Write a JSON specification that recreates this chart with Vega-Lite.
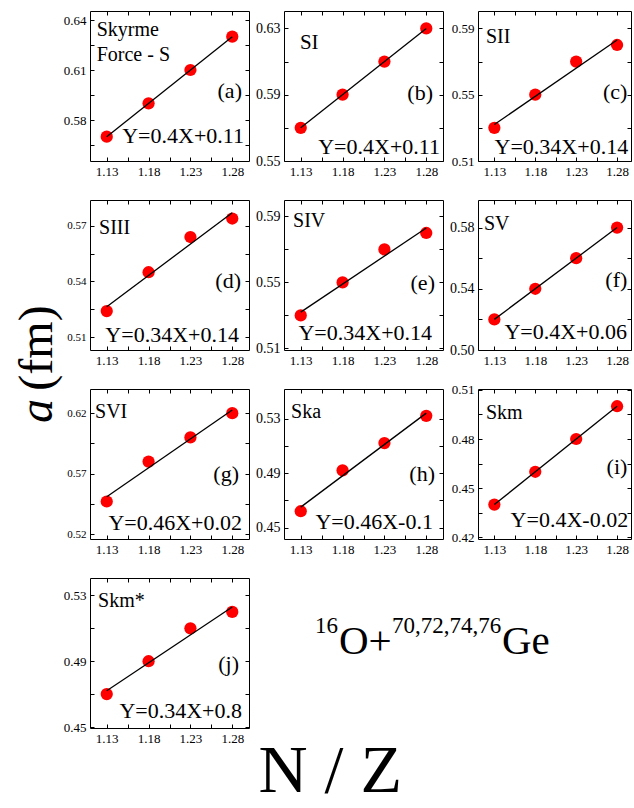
{
  "$schema": "https://vega.github.io/schema/vega-lite/v6.json",
  "padding": {"left": 0, "top": 10, "right": 0, "bottom": 0},
  "background": "white",
  "datasets": {
    "pts": [
      {"p": "a", "nz": 1.13, "a": 0.57}, {"p": "a", "nz": 1.18, "a": 0.59}, {"p": "a", "nz": 1.23, "a": 0.61}, {"p": "a", "nz": 1.28, "a": 0.63},
      {"p": "b", "nz": 1.13, "a": 0.57}, {"p": "b", "nz": 1.18, "a": 0.59}, {"p": "b", "nz": 1.23, "a": 0.61}, {"p": "b", "nz": 1.28, "a": 0.63},
      {"p": "c", "nz": 1.13, "a": 0.53}, {"p": "c", "nz": 1.18, "a": 0.55}, {"p": "c", "nz": 1.23, "a": 0.57}, {"p": "c", "nz": 1.28, "a": 0.58},
      {"p": "d", "nz": 1.13, "a": 0.524}, {"p": "d", "nz": 1.18, "a": 0.545}, {"p": "d", "nz": 1.23, "a": 0.564}, {"p": "d", "nz": 1.28, "a": 0.574},
      {"p": "e", "nz": 1.13, "a": 0.53}, {"p": "e", "nz": 1.18, "a": 0.55}, {"p": "e", "nz": 1.23, "a": 0.57}, {"p": "e", "nz": 1.28, "a": 0.58},
      {"p": "f", "nz": 1.13, "a": 0.52}, {"p": "f", "nz": 1.18, "a": 0.54}, {"p": "f", "nz": 1.23, "a": 0.56}, {"p": "f", "nz": 1.28, "a": 0.58},
      {"p": "g", "nz": 1.13, "a": 0.547}, {"p": "g", "nz": 1.18, "a": 0.58}, {"p": "g", "nz": 1.23, "a": 0.60}, {"p": "g", "nz": 1.28, "a": 0.62},
      {"p": "h", "nz": 1.13, "a": 0.462}, {"p": "h", "nz": 1.18, "a": 0.492}, {"p": "h", "nz": 1.23, "a": 0.512}, {"p": "h", "nz": 1.28, "a": 0.532},
      {"p": "i", "nz": 1.13, "a": 0.44}, {"p": "i", "nz": 1.18, "a": 0.46}, {"p": "i", "nz": 1.23, "a": 0.48}, {"p": "i", "nz": 1.28, "a": 0.50},
      {"p": "j", "nz": 1.13, "a": 0.47}, {"p": "j", "nz": 1.18, "a": 0.49}, {"p": "j", "nz": 1.23, "a": 0.51}, {"p": "j", "nz": 1.28, "a": 0.52}
    ],
    "lab": [
      {"p": "a", "r": "t", "s": "Skyrme"}, {"p": "a", "r": "t2", "s": "Force - S"}, {"p": "a", "r": "g", "s": "(a)"}, {"p": "a", "r": "e", "s": "Y=0.4X+0.11"},
      {"p": "b", "r": "t", "s": "SI"}, {"p": "b", "r": "g", "s": "(b)"}, {"p": "b", "r": "e", "s": "Y=0.4X+0.11"},
      {"p": "c", "r": "t", "s": "SII"}, {"p": "c", "r": "g", "s": "(c)"}, {"p": "c", "r": "e", "s": "Y=0.34X+0.14"},
      {"p": "d", "r": "t", "s": "SIII"}, {"p": "d", "r": "g", "s": "(d)"}, {"p": "d", "r": "e", "s": "Y=0.34X+0.14"},
      {"p": "e", "r": "t", "s": "SIV"}, {"p": "e", "r": "g", "s": "(e)"}, {"p": "e", "r": "e", "s": "Y=0.34X+0.14"},
      {"p": "f", "r": "t", "s": "SV"}, {"p": "f", "r": "g", "s": "(f)"}, {"p": "f", "r": "e", "s": "Y=0.4X+0.06"},
      {"p": "g", "r": "t", "s": "SVI"}, {"p": "g", "r": "g", "s": "(g)"}, {"p": "g", "r": "e", "s": "Y=0.46X+0.02"},
      {"p": "h", "r": "t", "s": "Ska"}, {"p": "h", "r": "g", "s": "(h)"}, {"p": "h", "r": "e", "s": "Y=0.46X-0.1"},
      {"p": "i", "r": "t", "s": "Skm"}, {"p": "i", "r": "g", "s": "(i)"}, {"p": "i", "r": "e", "s": "Y=0.4X-0.02"},
      {"p": "j", "r": "t", "s": "Skm*"}, {"p": "j", "r": "g", "s": "(j)"}, {"p": "j", "r": "e", "s": "Y=0.34X+0.8"},
      {"p": "y", "r": "a", "s": "a"}, {"p": "y", "r": "fm", "s": "(fm)"},
      {"p": "n", "r": "16", "s": "16"}, {"p": "n", "r": "O", "s": "O+"}, {"p": "n", "r": "sup", "s": "70,72,74,76"}, {"p": "n", "r": "Ge", "s": "Ge"}
    ]
  },
  "title": {"text": "N / Z", "orient": "bottom", "anchor": "middle", "fontSize": 68, "font": "Liberation Serif", "fontWeight": "normal", "color": "black", "dx": 14, "offset": -8},
  "bounds": "flush",
  "spacing": 31,
  "hconcat": [
    {
      "width": 58, "height": 717,
      "view": {"stroke": "transparent"},
      "data": {"name": "lab"},
      "layer": [
        {"transform": [{"filter": "datum.p==='y' && datum.r==='a'"}], "mark": {"type": "text", "angle": 270, "align": "center", "baseline": "middle", "fontSize": 48, "fontStyle": "italic"},
         "encoding": {"x": {"datum": 0.64, "type": "quantitative", "scale": {"domain": [0, 1], "nice": false, "zero": false}, "axis": null}, "y": {"datum": 0.442, "type": "quantitative", "scale": {"domain": [0, 1], "nice": false, "zero": false}, "axis": null}, "text": {"field": "s"}}},
        {"transform": [{"filter": "datum.p==='y' && datum.r==='fm'"}], "mark": {"type": "text", "angle": 270, "align": "center", "baseline": "middle", "fontSize": 48},
         "encoding": {"x": {"datum": 0.64, "type": "quantitative", "scale": {"domain": [0, 1], "nice": false, "zero": false}, "axis": null}, "y": {"datum": 0.53, "type": "quantitative", "scale": {"domain": [0, 1], "nice": false, "zero": false}, "axis": null}, "text": {"field": "s"}}}
      ]
    },
    {
      "columns": 3,
      "spacing": {"row": 39, "column": 35},
      "bounds": "flush",
      "align": "each",
      "concat": [
        {
          "width": 159, "height": 150,
          "layer": [
            {"data": {"name": "pts"}, "transform": [{"filter": "datum.p==='a'"}], "mark": {"type": "circle", "color": "#ff0000", "size": 150, "opacity": 1},
             "encoding": {"x": {"field": "nz", "type": "quantitative", "scale": {"domain": [1.11, 1.30], "nice": false, "zero": false}, "axis": {"title": null, "values": [1.13, 1.155, 1.18, 1.205, 1.23, 1.255, 1.28], "format": ".2f", "labelExpr": "indexof([1.13,1.18,1.23,1.28], datum.value) >= 0 ? datum.label : ''"}},
                          "y": {"field": "a", "type": "quantitative", "scale": {"domain": [0.5554, 0.6454], "nice": false, "zero": false}, "axis": {"title": null, "values": [0.565, 0.58, 0.595, 0.61, 0.625, 0.64], "format": ".2f", "labelFontSize": 13, "labelExpr": "indexof([0.58,0.61,0.64], datum.value) >= 0 ? datum.label : ''"}}}},
            {"data": {"name": "pts"}, "transform": [{"filter": "datum.p==='a'"}, {"regression": "a", "on": "nz"}], "mark": {"type": "line", "color": "black", "strokeWidth": 1.3},
             "encoding": {"x": {"field": "nz", "type": "quantitative", "scale": {"domain": [1.11, 1.30], "nice": false, "zero": false}, "axis": null}, "y": {"field": "a", "type": "quantitative", "scale": {"domain": [0.5554, 0.6454], "nice": false, "zero": false}, "axis": null}}},
            {"data": {"name": "pts"}, "transform": [{"filter": "datum.p==='a'"}], "mark": {"type": "point", "opacity": 0},
             "encoding": {"x": {"field": "nz", "type": "quantitative", "scale": {"domain": [1.11, 1.30], "nice": false, "zero": false}, "axis": {"title": null, "orient": "top", "labels": false, "values": [1.13, 1.155, 1.18, 1.205, 1.23, 1.255, 1.28]}},
                          "y": {"field": "a", "type": "quantitative", "scale": {"domain": [0.5554, 0.6454], "nice": false, "zero": false}, "axis": {"title": null, "orient": "right", "labels": false, "values": [0.565, 0.58, 0.595, 0.61, 0.625, 0.64]}}}},
            {"data": {"name": "lab"}, "transform": [{"filter": "datum.p==='a' && datum.r==='t'"}], "mark": {"type": "text", "align": "left", "fontSize": 20},
             "encoding": {"x": {"datum": 1.118, "type": "quantitative", "scale": {"domain": [1.11, 1.30], "nice": false, "zero": false}, "axis": null}, "y": {"datum": 0.6304, "type": "quantitative", "scale": {"domain": [0.5554, 0.6454], "nice": false, "zero": false}, "axis": null}, "text": {"field": "s"}}},
            {"data": {"name": "lab"}, "transform": [{"filter": "datum.p==='a' && datum.r==='t2'"}], "mark": {"type": "text", "align": "left", "fontSize": 20},
             "encoding": {"x": {"datum": 1.118, "type": "quantitative", "scale": {"domain": [1.11, 1.30], "nice": false, "zero": false}, "axis": null}, "y": {"datum": 0.6154, "type": "quantitative", "scale": {"domain": [0.5554, 0.6454], "nice": false, "zero": false}, "axis": null}, "text": {"field": "s"}}},
            {"data": {"name": "lab"}, "transform": [{"filter": "datum.p==='a' && datum.r==='g'"}], "mark": {"type": "text", "align": "right", "fontSize": 22},
             "encoding": {"x": {"datum": 1.2916, "type": "quantitative", "scale": {"domain": [1.11, 1.30], "nice": false, "zero": false}, "axis": null}, "y": {"datum": 0.5932, "type": "quantitative", "scale": {"domain": [0.5554, 0.6454], "nice": false, "zero": false}, "axis": null}, "text": {"field": "s"}}},
            {"data": {"name": "lab"}, "transform": [{"filter": "datum.p==='a' && datum.r==='e'"}], "mark": {"type": "text", "align": "right", "fontSize": 22},
             "encoding": {"x": {"datum": 1.294, "type": "quantitative", "scale": {"domain": [1.11, 1.30], "nice": false, "zero": false}, "axis": null}, "y": {"datum": 0.5662, "type": "quantitative", "scale": {"domain": [0.5554, 0.6454], "nice": false, "zero": false}, "axis": null}, "text": {"field": "s"}}}
          ],
          "resolve": {"axis": {"x": "independent", "y": "independent"}}
        },
        {
          "width": 159, "height": 150,
          "layer": [
            {"data": {"name": "pts"}, "transform": [{"filter": "datum.p==='b'"}], "mark": {"type": "circle", "color": "#ff0000", "size": 150, "opacity": 1},
             "encoding": {"x": {"field": "nz", "type": "quantitative", "scale": {"domain": [1.11, 1.30], "nice": false, "zero": false}, "axis": {"title": null, "values": [1.13, 1.155, 1.18, 1.205, 1.23, 1.255, 1.28], "format": ".2f", "labelExpr": "indexof([1.13,1.18,1.23,1.28], datum.value) >= 0 ? datum.label : ''"}},
                          "y": {"field": "a", "type": "quantitative", "scale": {"domain": [0.55, 0.6405], "nice": false, "zero": false}, "axis": {"title": null, "values": [0.55, 0.57, 0.59, 0.61, 0.63], "format": ".2f", "labelFontSize": 14, "labelExpr": "indexof([0.55,0.59,0.63], datum.value) >= 0 ? datum.label : ''"}}}},
            {"data": {"name": "pts"}, "transform": [{"filter": "datum.p==='b'"}, {"regression": "a", "on": "nz"}], "mark": {"type": "line", "color": "black", "strokeWidth": 1.3},
             "encoding": {"x": {"field": "nz", "type": "quantitative", "scale": {"domain": [1.11, 1.30], "nice": false, "zero": false}, "axis": null}, "y": {"field": "a", "type": "quantitative", "scale": {"domain": [0.55, 0.6405], "nice": false, "zero": false}, "axis": null}}},
            {"data": {"name": "pts"}, "transform": [{"filter": "datum.p==='b'"}], "mark": {"type": "point", "opacity": 0},
             "encoding": {"x": {"field": "nz", "type": "quantitative", "scale": {"domain": [1.11, 1.30], "nice": false, "zero": false}, "axis": {"title": null, "orient": "top", "labels": false, "values": [1.13, 1.155, 1.18, 1.205, 1.23, 1.255, 1.28]}},
                          "y": {"field": "a", "type": "quantitative", "scale": {"domain": [0.55, 0.6405], "nice": false, "zero": false}, "axis": {"title": null, "orient": "right", "labels": false, "values": [0.55, 0.57, 0.59, 0.61, 0.63]}}}},
            {"data": {"name": "lab"}, "transform": [{"filter": "datum.p==='b' && datum.r==='t'"}], "mark": {"type": "text", "align": "left", "fontSize": 21},
             "encoding": {"x": {"datum": 1.129, "type": "quantitative", "scale": {"domain": [1.11, 1.30], "nice": false, "zero": false}, "axis": null}, "y": {"datum": 0.6176, "type": "quantitative", "scale": {"domain": [0.55, 0.6405], "nice": false, "zero": false}, "axis": null}, "text": {"field": "s"}}},
            {"data": {"name": "lab"}, "transform": [{"filter": "datum.p==='b' && datum.r==='g'"}], "mark": {"type": "text", "align": "right", "fontSize": 22},
             "encoding": {"x": {"datum": 1.288, "type": "quantitative", "scale": {"domain": [1.11, 1.30], "nice": false, "zero": false}, "axis": null}, "y": {"datum": 0.5868, "type": "quantitative", "scale": {"domain": [0.55, 0.6405], "nice": false, "zero": false}, "axis": null}, "text": {"field": "s"}}},
            {"data": {"name": "lab"}, "transform": [{"filter": "datum.p==='b' && datum.r==='e'"}], "mark": {"type": "text", "align": "right", "fontSize": 22},
             "encoding": {"x": {"datum": 1.2964, "type": "quantitative", "scale": {"domain": [1.11, 1.30], "nice": false, "zero": false}, "axis": null}, "y": {"datum": 0.5542, "type": "quantitative", "scale": {"domain": [0.55, 0.6405], "nice": false, "zero": false}, "axis": null}, "text": {"field": "s"}}}
          ],
          "resolve": {"axis": {"x": "independent", "y": "independent"}}
        },
        {
          "width": 153, "height": 150,
          "layer": [
            {"data": {"name": "pts"}, "transform": [{"filter": "datum.p==='c'"}], "mark": {"type": "circle", "color": "#ff0000", "size": 150, "opacity": 1},
             "encoding": {"x": {"field": "nz", "type": "quantitative", "scale": {"domain": [1.11, 1.297], "nice": false, "zero": false}, "axis": {"title": null, "values": [1.13, 1.155, 1.18, 1.205, 1.23, 1.255, 1.28], "format": ".2f", "labelExpr": "indexof([1.13,1.18,1.23,1.28], datum.value) >= 0 ? datum.label : ''"}},
                          "y": {"field": "a", "type": "quantitative", "scale": {"domain": [0.51, 0.6005], "nice": false, "zero": false}, "axis": {"title": null, "values": [0.51, 0.53, 0.55, 0.57, 0.59], "format": ".2f", "labelFontSize": 13, "labelExpr": "indexof([0.51,0.55,0.59], datum.value) >= 0 ? datum.label : ''"}}}},
            {"data": {"name": "pts"}, "transform": [{"filter": "datum.p==='c'"}, {"regression": "a", "on": "nz"}], "mark": {"type": "line", "color": "black", "strokeWidth": 1.3},
             "encoding": {"x": {"field": "nz", "type": "quantitative", "scale": {"domain": [1.11, 1.297], "nice": false, "zero": false}, "axis": null}, "y": {"field": "a", "type": "quantitative", "scale": {"domain": [0.51, 0.6005], "nice": false, "zero": false}, "axis": null}}},
            {"data": {"name": "pts"}, "transform": [{"filter": "datum.p==='c'"}], "mark": {"type": "point", "opacity": 0},
             "encoding": {"x": {"field": "nz", "type": "quantitative", "scale": {"domain": [1.11, 1.297], "nice": false, "zero": false}, "axis": {"title": null, "orient": "top", "labels": false, "values": [1.13, 1.155, 1.18, 1.205, 1.23, 1.255, 1.28]}},
                          "y": {"field": "a", "type": "quantitative", "scale": {"domain": [0.51, 0.6005], "nice": false, "zero": false}, "axis": {"title": null, "orient": "right", "labels": false, "values": [0.51, 0.53, 0.55, 0.57, 0.59]}}}},
            {"data": {"name": "lab"}, "transform": [{"filter": "datum.p==='c' && datum.r==='t'"}], "mark": {"type": "text", "align": "left", "fontSize": 20},
             "encoding": {"x": {"datum": 1.1197, "type": "quantitative", "scale": {"domain": [1.11, 1.297], "nice": false, "zero": false}, "axis": null}, "y": {"datum": 0.5812, "type": "quantitative", "scale": {"domain": [0.51, 0.6005], "nice": false, "zero": false}, "axis": null}, "text": {"field": "s"}}},
            {"data": {"name": "lab"}, "transform": [{"filter": "datum.p==='c' && datum.r==='g'"}], "mark": {"type": "text", "align": "right", "fontSize": 22},
             "encoding": {"x": {"datum": 1.2925, "type": "quantitative", "scale": {"domain": [1.11, 1.297], "nice": false, "zero": false}, "axis": null}, "y": {"datum": 0.5474, "type": "quantitative", "scale": {"domain": [0.51, 0.6005], "nice": false, "zero": false}, "axis": null}, "text": {"field": "s"}}},
            {"data": {"name": "lab"}, "transform": [{"filter": "datum.p==='c' && datum.r==='e'"}], "mark": {"type": "text", "align": "right", "fontSize": 22},
             "encoding": {"x": {"datum": 1.2935, "type": "quantitative", "scale": {"domain": [1.11, 1.297], "nice": false, "zero": false}, "axis": null}, "y": {"datum": 0.5142, "type": "quantitative", "scale": {"domain": [0.51, 0.6005], "nice": false, "zero": false}, "axis": null}, "text": {"field": "s"}}}
          ],
          "resolve": {"axis": {"x": "independent", "y": "independent"}}
        },
        {
          "width": 159, "height": 150,
          "layer": [
            {"data": {"name": "pts"}, "transform": [{"filter": "datum.p==='d'"}], "mark": {"type": "circle", "color": "#ff0000", "size": 150, "opacity": 1},
             "encoding": {"x": {"field": "nz", "type": "quantitative", "scale": {"domain": [1.11, 1.30], "nice": false, "zero": false}, "axis": {"title": null, "values": [1.13, 1.155, 1.18, 1.205, 1.23, 1.255, 1.28], "format": ".2f", "labelExpr": "indexof([1.13,1.18,1.23,1.28], datum.value) >= 0 ? datum.label : ''"}},
                          "y": {"field": "a", "type": "quantitative", "scale": {"domain": [0.503, 0.584], "nice": false, "zero": false}, "axis": {"title": null, "values": [0.51, 0.525, 0.54, 0.555, 0.57], "format": ".2f", "labelFontSize": 11, "labelExpr": "indexof([0.51,0.54,0.57], datum.value) >= 0 ? datum.label : ''"}}}},
            {"data": {"name": "pts"}, "transform": [{"filter": "datum.p==='d'"}, {"regression": "a", "on": "nz"}], "mark": {"type": "line", "color": "black", "strokeWidth": 1.3},
             "encoding": {"x": {"field": "nz", "type": "quantitative", "scale": {"domain": [1.11, 1.30], "nice": false, "zero": false}, "axis": null}, "y": {"field": "a", "type": "quantitative", "scale": {"domain": [0.503, 0.584], "nice": false, "zero": false}, "axis": null}}},
            {"data": {"name": "pts"}, "transform": [{"filter": "datum.p==='d'"}], "mark": {"type": "point", "opacity": 0},
             "encoding": {"x": {"field": "nz", "type": "quantitative", "scale": {"domain": [1.11, 1.30], "nice": false, "zero": false}, "axis": {"title": null, "orient": "top", "labels": false, "values": [1.13, 1.155, 1.18, 1.205, 1.23, 1.255, 1.28]}},
                          "y": {"field": "a", "type": "quantitative", "scale": {"domain": [0.503, 0.584], "nice": false, "zero": false}, "axis": {"title": null, "orient": "right", "labels": false, "values": [0.51, 0.525, 0.54, 0.555, 0.57]}}}},
            {"data": {"name": "lab"}, "transform": [{"filter": "datum.p==='d' && datum.r==='t'"}], "mark": {"type": "text", "align": "left", "fontSize": 20},
             "encoding": {"x": {"datum": 1.1208, "type": "quantitative", "scale": {"domain": [1.11, 1.30], "nice": false, "zero": false}, "axis": null}, "y": {"datum": 0.5656, "type": "quantitative", "scale": {"domain": [0.503, 0.584], "nice": false, "zero": false}, "axis": null}, "text": {"field": "s"}}},
            {"data": {"name": "lab"}, "transform": [{"filter": "datum.p==='d' && datum.r==='g'"}], "mark": {"type": "text", "align": "right", "fontSize": 22},
             "encoding": {"x": {"datum": 1.2904, "type": "quantitative", "scale": {"domain": [1.11, 1.30], "nice": false, "zero": false}, "axis": null}, "y": {"datum": 0.5365, "type": "quantitative", "scale": {"domain": [0.503, 0.584], "nice": false, "zero": false}, "axis": null}, "text": {"field": "s"}}},
            {"data": {"name": "lab"}, "transform": [{"filter": "datum.p==='d' && datum.r==='e'"}], "mark": {"type": "text", "align": "right", "fontSize": 22},
             "encoding": {"x": {"datum": 1.288, "type": "quantitative", "scale": {"domain": [1.11, 1.30], "nice": false, "zero": false}, "axis": null}, "y": {"datum": 0.5073, "type": "quantitative", "scale": {"domain": [0.503, 0.584], "nice": false, "zero": false}, "axis": null}, "text": {"field": "s"}}}
          ],
          "resolve": {"axis": {"x": "independent", "y": "independent"}}
        },
        {
          "width": 159, "height": 150,
          "layer": [
            {"data": {"name": "pts"}, "transform": [{"filter": "datum.p==='e'"}], "mark": {"type": "circle", "color": "#ff0000", "size": 150, "opacity": 1},
             "encoding": {"x": {"field": "nz", "type": "quantitative", "scale": {"domain": [1.11, 1.30], "nice": false, "zero": false}, "axis": {"title": null, "values": [1.13, 1.155, 1.18, 1.205, 1.23, 1.255, 1.28], "format": ".2f", "labelExpr": "indexof([1.13,1.18,1.23,1.28], datum.value) >= 0 ? datum.label : ''"}},
                          "y": {"field": "a", "type": "quantitative", "scale": {"domain": [0.509, 0.600], "nice": false, "zero": false}, "axis": {"title": null, "values": [0.51, 0.53, 0.55, 0.57, 0.59], "format": ".2f", "labelFontSize": 14, "labelExpr": "indexof([0.51,0.55,0.59], datum.value) >= 0 ? datum.label : ''"}}}},
            {"data": {"name": "pts"}, "transform": [{"filter": "datum.p==='e'"}, {"regression": "a", "on": "nz"}], "mark": {"type": "line", "color": "black", "strokeWidth": 1.3},
             "encoding": {"x": {"field": "nz", "type": "quantitative", "scale": {"domain": [1.11, 1.30], "nice": false, "zero": false}, "axis": null}, "y": {"field": "a", "type": "quantitative", "scale": {"domain": [0.509, 0.600], "nice": false, "zero": false}, "axis": null}}},
            {"data": {"name": "pts"}, "transform": [{"filter": "datum.p==='e'"}], "mark": {"type": "point", "opacity": 0},
             "encoding": {"x": {"field": "nz", "type": "quantitative", "scale": {"domain": [1.11, 1.30], "nice": false, "zero": false}, "axis": {"title": null, "orient": "top", "labels": false, "values": [1.13, 1.155, 1.18, 1.205, 1.23, 1.255, 1.28]}},
                          "y": {"field": "a", "type": "quantitative", "scale": {"domain": [0.509, 0.600], "nice": false, "zero": false}, "axis": {"title": null, "orient": "right", "labels": false, "values": [0.51, 0.53, 0.55, 0.57, 0.59]}}}},
            {"data": {"name": "lab"}, "transform": [{"filter": "datum.p==='e' && datum.r==='t'"}], "mark": {"type": "text", "align": "left", "fontSize": 20},
             "encoding": {"x": {"datum": 1.1208, "type": "quantitative", "scale": {"domain": [1.11, 1.30], "nice": false, "zero": false}, "axis": null}, "y": {"datum": 0.5836, "type": "quantitative", "scale": {"domain": [0.509, 0.600], "nice": false, "zero": false}, "axis": null}, "text": {"field": "s"}}},
            {"data": {"name": "lab"}, "transform": [{"filter": "datum.p==='e' && datum.r==='g'"}], "mark": {"type": "text", "align": "right", "fontSize": 22},
             "encoding": {"x": {"datum": 1.2904, "type": "quantitative", "scale": {"domain": [1.11, 1.30], "nice": false, "zero": false}, "axis": null}, "y": {"datum": 0.5454, "type": "quantitative", "scale": {"domain": [0.509, 0.600], "nice": false, "zero": false}, "axis": null}, "text": {"field": "s"}}},
            {"data": {"name": "lab"}, "transform": [{"filter": "datum.p==='e' && datum.r==='e'"}], "mark": {"type": "text", "align": "right", "fontSize": 22},
             "encoding": {"x": {"datum": 1.2869, "type": "quantitative", "scale": {"domain": [1.11, 1.30], "nice": false, "zero": false}, "axis": null}, "y": {"datum": 0.5151, "type": "quantitative", "scale": {"domain": [0.509, 0.600], "nice": false, "zero": false}, "axis": null}, "text": {"field": "s"}}}
          ],
          "resolve": {"axis": {"x": "independent", "y": "independent"}}
        },
        {
          "width": 153, "height": 150,
          "layer": [
            {"data": {"name": "pts"}, "transform": [{"filter": "datum.p==='f'"}], "mark": {"type": "circle", "color": "#ff0000", "size": 150, "opacity": 1},
             "encoding": {"x": {"field": "nz", "type": "quantitative", "scale": {"domain": [1.11, 1.297], "nice": false, "zero": false}, "axis": {"title": null, "values": [1.13, 1.155, 1.18, 1.205, 1.23, 1.255, 1.28], "format": ".2f", "labelExpr": "indexof([1.13,1.18,1.23,1.28], datum.value) >= 0 ? datum.label : ''"}},
                          "y": {"field": "a", "type": "quantitative", "scale": {"domain": [0.50, 0.598], "nice": false, "zero": false}, "axis": {"title": null, "values": [0.50, 0.52, 0.54, 0.56, 0.58], "format": ".2f", "labelFontSize": 14, "labelExpr": "indexof([0.5,0.54,0.58], datum.value) >= 0 ? datum.label : ''"}}}},
            {"data": {"name": "pts"}, "transform": [{"filter": "datum.p==='f'"}, {"regression": "a", "on": "nz"}], "mark": {"type": "line", "color": "black", "strokeWidth": 1.3},
             "encoding": {"x": {"field": "nz", "type": "quantitative", "scale": {"domain": [1.11, 1.297], "nice": false, "zero": false}, "axis": null}, "y": {"field": "a", "type": "quantitative", "scale": {"domain": [0.50, 0.598], "nice": false, "zero": false}, "axis": null}}},
            {"data": {"name": "pts"}, "transform": [{"filter": "datum.p==='f'"}], "mark": {"type": "point", "opacity": 0},
             "encoding": {"x": {"field": "nz", "type": "quantitative", "scale": {"domain": [1.11, 1.297], "nice": false, "zero": false}, "axis": {"title": null, "orient": "top", "labels": false, "values": [1.13, 1.155, 1.18, 1.205, 1.23, 1.255, 1.28]}},
                          "y": {"field": "a", "type": "quantitative", "scale": {"domain": [0.50, 0.598], "nice": false, "zero": false}, "axis": {"title": null, "orient": "right", "labels": false, "values": [0.50, 0.52, 0.54, 0.56, 0.58]}}}},
            {"data": {"name": "lab"}, "transform": [{"filter": "datum.p==='f' && datum.r==='t'"}], "mark": {"type": "text", "align": "left", "fontSize": 20},
             "encoding": {"x": {"datum": 1.1173, "type": "quantitative", "scale": {"domain": [1.11, 1.297], "nice": false, "zero": false}, "axis": null}, "y": {"datum": 0.5784, "type": "quantitative", "scale": {"domain": [0.50, 0.598], "nice": false, "zero": false}, "axis": null}, "text": {"field": "s"}}},
            {"data": {"name": "lab"}, "transform": [{"filter": "datum.p==='f' && datum.r==='g'"}], "mark": {"type": "text", "align": "right", "fontSize": 22},
             "encoding": {"x": {"datum": 1.2925, "type": "quantitative", "scale": {"domain": [1.11, 1.297], "nice": false, "zero": false}, "axis": null}, "y": {"datum": 0.5411, "type": "quantitative", "scale": {"domain": [0.50, 0.598], "nice": false, "zero": false}, "axis": null}, "text": {"field": "s"}}},
            {"data": {"name": "lab"}, "transform": [{"filter": "datum.p==='f' && datum.r==='e'"}], "mark": {"type": "text", "align": "right", "fontSize": 22},
             "encoding": {"x": {"datum": 1.2921, "type": "quantitative", "scale": {"domain": [1.11, 1.297], "nice": false, "zero": false}, "axis": null}, "y": {"datum": 0.5072, "type": "quantitative", "scale": {"domain": [0.50, 0.598], "nice": false, "zero": false}, "axis": null}, "text": {"field": "s"}}}
          ],
          "resolve": {"axis": {"x": "independent", "y": "independent"}}
        },
        {
          "width": 159, "height": 150,
          "layer": [
            {"data": {"name": "pts"}, "transform": [{"filter": "datum.p==='g'"}], "mark": {"type": "circle", "color": "#ff0000", "size": 150, "opacity": 1},
             "encoding": {"x": {"field": "nz", "type": "quantitative", "scale": {"domain": [1.11, 1.30], "nice": false, "zero": false}, "axis": {"title": null, "values": [1.13, 1.155, 1.18, 1.205, 1.23, 1.255, 1.28], "format": ".2f", "labelExpr": "indexof([1.13,1.18,1.23,1.28], datum.value) >= 0 ? datum.label : ''"}},
                          "y": {"field": "a", "type": "quantitative", "scale": {"domain": [0.516, 0.640], "nice": false, "zero": false}, "axis": {"title": null, "values": [0.52, 0.545, 0.57, 0.595, 0.62], "format": ".2f", "labelFontSize": 11, "labelExpr": "indexof([0.52,0.57,0.62], datum.value) >= 0 ? datum.label : ''"}}}},
            {"data": {"name": "pts"}, "transform": [{"filter": "datum.p==='g'"}, {"regression": "a", "on": "nz"}], "mark": {"type": "line", "color": "black", "strokeWidth": 1.3},
             "encoding": {"x": {"field": "nz", "type": "quantitative", "scale": {"domain": [1.11, 1.30], "nice": false, "zero": false}, "axis": null}, "y": {"field": "a", "type": "quantitative", "scale": {"domain": [0.516, 0.640], "nice": false, "zero": false}, "axis": null}}},
            {"data": {"name": "pts"}, "transform": [{"filter": "datum.p==='g'"}], "mark": {"type": "point", "opacity": 0},
             "encoding": {"x": {"field": "nz", "type": "quantitative", "scale": {"domain": [1.11, 1.30], "nice": false, "zero": false}, "axis": {"title": null, "orient": "top", "labels": false, "values": [1.13, 1.155, 1.18, 1.205, 1.23, 1.255, 1.28]}},
                          "y": {"field": "a", "type": "quantitative", "scale": {"domain": [0.516, 0.640], "nice": false, "zero": false}, "axis": {"title": null, "orient": "right", "labels": false, "values": [0.52, 0.545, 0.57, 0.595, 0.62]}}}},
            {"data": {"name": "lab"}, "transform": [{"filter": "datum.p==='g' && datum.r==='t'"}], "mark": {"type": "text", "align": "left", "fontSize": 20},
             "encoding": {"x": {"datum": 1.116, "type": "quantitative", "scale": {"domain": [1.11, 1.30], "nice": false, "zero": false}, "axis": null}, "y": {"datum": 0.616, "type": "quantitative", "scale": {"domain": [0.516, 0.640], "nice": false, "zero": false}, "axis": null}, "text": {"field": "s"}}},
            {"data": {"name": "lab"}, "transform": [{"filter": "datum.p==='g' && datum.r==='g'"}], "mark": {"type": "text", "align": "right", "fontSize": 22},
             "encoding": {"x": {"datum": 1.288, "type": "quantitative", "scale": {"domain": [1.11, 1.30], "nice": false, "zero": false}, "axis": null}, "y": {"datum": 0.564, "type": "quantitative", "scale": {"domain": [0.516, 0.640], "nice": false, "zero": false}, "axis": null}, "text": {"field": "s"}}},
            {"data": {"name": "lab"}, "transform": [{"filter": "datum.p==='g' && datum.r==='e'"}], "mark": {"type": "text", "align": "right", "fontSize": 22},
             "encoding": {"x": {"datum": 1.2916, "type": "quantitative", "scale": {"domain": [1.11, 1.30], "nice": false, "zero": false}, "axis": null}, "y": {"datum": 0.5234, "type": "quantitative", "scale": {"domain": [0.516, 0.640], "nice": false, "zero": false}, "axis": null}, "text": {"field": "s"}}}
          ],
          "resolve": {"axis": {"x": "independent", "y": "independent"}}
        },
        {
          "width": 159, "height": 150,
          "layer": [
            {"data": {"name": "pts"}, "transform": [{"filter": "datum.p==='h'"}], "mark": {"type": "circle", "color": "#ff0000", "size": 150, "opacity": 1},
             "encoding": {"x": {"field": "nz", "type": "quantitative", "scale": {"domain": [1.11, 1.30], "nice": false, "zero": false}, "axis": {"title": null, "values": [1.13, 1.155, 1.18, 1.205, 1.23, 1.255, 1.28], "format": ".2f", "labelExpr": "indexof([1.13,1.18,1.23,1.28], datum.value) >= 0 ? datum.label : ''"}},
                          "y": {"field": "a", "type": "quantitative", "scale": {"domain": [0.4416, 0.5517], "nice": false, "zero": false}, "axis": {"title": null, "values": [0.45, 0.47, 0.49, 0.51, 0.53], "format": ".2f", "labelFontSize": 14, "labelExpr": "indexof([0.45,0.49,0.53], datum.value) >= 0 ? datum.label : ''"}}}},
            {"data": {"name": "pts"}, "transform": [{"filter": "datum.p==='h'"}, {"regression": "a", "on": "nz"}], "mark": {"type": "line", "color": "black", "strokeWidth": 1.3},
             "encoding": {"x": {"field": "nz", "type": "quantitative", "scale": {"domain": [1.11, 1.30], "nice": false, "zero": false}, "axis": null}, "y": {"field": "a", "type": "quantitative", "scale": {"domain": [0.4416, 0.5517], "nice": false, "zero": false}, "axis": null}}},
            {"data": {"name": "pts"}, "transform": [{"filter": "datum.p==='h'"}], "mark": {"type": "point", "opacity": 0},
             "encoding": {"x": {"field": "nz", "type": "quantitative", "scale": {"domain": [1.11, 1.30], "nice": false, "zero": false}, "axis": {"title": null, "orient": "top", "labels": false, "values": [1.13, 1.155, 1.18, 1.205, 1.23, 1.255, 1.28]}},
                          "y": {"field": "a", "type": "quantitative", "scale": {"domain": [0.4416, 0.5517], "nice": false, "zero": false}, "axis": {"title": null, "orient": "right", "labels": false, "values": [0.45, 0.47, 0.49, 0.51, 0.53]}}}},
            {"data": {"name": "lab"}, "transform": [{"filter": "datum.p==='h' && datum.r==='t'"}], "mark": {"type": "text", "align": "left", "fontSize": 20},
             "encoding": {"x": {"datum": 1.1184, "type": "quantitative", "scale": {"domain": [1.11, 1.30], "nice": false, "zero": false}, "axis": null}, "y": {"datum": 0.5304, "type": "quantitative", "scale": {"domain": [0.4416, 0.5517], "nice": false, "zero": false}, "axis": null}, "text": {"field": "s"}}},
            {"data": {"name": "lab"}, "transform": [{"filter": "datum.p==='h' && datum.r==='g'"}], "mark": {"type": "text", "align": "right", "fontSize": 22},
             "encoding": {"x": {"datum": 1.2904, "type": "quantitative", "scale": {"domain": [1.11, 1.30], "nice": false, "zero": false}, "axis": null}, "y": {"datum": 0.4842, "type": "quantitative", "scale": {"domain": [0.4416, 0.5517], "nice": false, "zero": false}, "axis": null}, "text": {"field": "s"}}},
            {"data": {"name": "lab"}, "transform": [{"filter": "datum.p==='h' && datum.r==='e'"}], "mark": {"type": "text", "align": "right", "fontSize": 22},
             "encoding": {"x": {"datum": 1.288, "type": "quantitative", "scale": {"domain": [1.11, 1.30], "nice": false, "zero": false}, "axis": null}, "y": {"datum": 0.4489, "type": "quantitative", "scale": {"domain": [0.4416, 0.5517], "nice": false, "zero": false}, "axis": null}, "text": {"field": "s"}}}
          ],
          "resolve": {"axis": {"x": "independent", "y": "independent"}}
        },
        {
          "width": 153, "height": 150,
          "layer": [
            {"data": {"name": "pts"}, "transform": [{"filter": "datum.p==='i'"}], "mark": {"type": "circle", "color": "#ff0000", "size": 150, "opacity": 1},
             "encoding": {"x": {"field": "nz", "type": "quantitative", "scale": {"domain": [1.11, 1.297], "nice": false, "zero": false}, "axis": {"title": null, "values": [1.13, 1.155, 1.18, 1.205, 1.23, 1.255, 1.28], "format": ".2f", "labelExpr": "indexof([1.13,1.18,1.23,1.28], datum.value) >= 0 ? datum.label : ''"}},
                          "y": {"field": "a", "type": "quantitative", "scale": {"domain": [0.419, 0.5105], "nice": false, "zero": false}, "axis": {"title": null, "values": [0.42, 0.435, 0.45, 0.465, 0.48, 0.495, 0.51], "format": ".2f", "labelFontSize": 13, "labelExpr": "indexof([0.42,0.45,0.48,0.51], datum.value) >= 0 ? datum.label : ''"}}}},
            {"data": {"name": "pts"}, "transform": [{"filter": "datum.p==='i'"}, {"regression": "a", "on": "nz"}], "mark": {"type": "line", "color": "black", "strokeWidth": 1.3},
             "encoding": {"x": {"field": "nz", "type": "quantitative", "scale": {"domain": [1.11, 1.297], "nice": false, "zero": false}, "axis": null}, "y": {"field": "a", "type": "quantitative", "scale": {"domain": [0.419, 0.5105], "nice": false, "zero": false}, "axis": null}}},
            {"data": {"name": "pts"}, "transform": [{"filter": "datum.p==='i'"}], "mark": {"type": "point", "opacity": 0},
             "encoding": {"x": {"field": "nz", "type": "quantitative", "scale": {"domain": [1.11, 1.297], "nice": false, "zero": false}, "axis": {"title": null, "orient": "top", "labels": false, "values": [1.13, 1.155, 1.18, 1.205, 1.23, 1.255, 1.28]}},
                          "y": {"field": "a", "type": "quantitative", "scale": {"domain": [0.419, 0.5105], "nice": false, "zero": false}, "axis": {"title": null, "orient": "right", "labels": false, "values": [0.42, 0.435, 0.45, 0.465, 0.48, 0.495, 0.51]}}}},
            {"data": {"name": "lab"}, "transform": [{"filter": "datum.p==='i' && datum.r==='t'"}], "mark": {"type": "text", "align": "left", "fontSize": 20},
             "encoding": {"x": {"datum": 1.1197, "type": "quantitative", "scale": {"domain": [1.11, 1.297], "nice": false, "zero": false}, "axis": null}, "y": {"datum": 0.4924, "type": "quantitative", "scale": {"domain": [0.419, 0.5105], "nice": false, "zero": false}, "axis": null}, "text": {"field": "s"}}},
            {"data": {"name": "lab"}, "transform": [{"filter": "datum.p==='i' && datum.r==='g'"}], "mark": {"type": "text", "align": "right", "fontSize": 22},
             "encoding": {"x": {"datum": 1.2925, "type": "quantitative", "scale": {"domain": [1.11, 1.297], "nice": false, "zero": false}, "axis": null}, "y": {"datum": 0.4585, "type": "quantitative", "scale": {"domain": [0.419, 0.5105], "nice": false, "zero": false}, "axis": null}, "text": {"field": "s"}}},
            {"data": {"name": "lab"}, "transform": [{"filter": "datum.p==='i' && datum.r==='e'"}], "mark": {"type": "text", "align": "right", "fontSize": 22},
             "encoding": {"x": {"datum": 1.2935, "type": "quantitative", "scale": {"domain": [1.11, 1.297], "nice": false, "zero": false}, "axis": null}, "y": {"datum": 0.4263, "type": "quantitative", "scale": {"domain": [0.419, 0.5105], "nice": false, "zero": false}, "axis": null}, "text": {"field": "s"}}}
          ],
          "resolve": {"axis": {"x": "independent", "y": "independent"}}
        },
        {
          "width": 159, "height": 150,
          "layer": [
            {"data": {"name": "pts"}, "transform": [{"filter": "datum.p==='j'"}], "mark": {"type": "circle", "color": "#ff0000", "size": 150, "opacity": 1},
             "encoding": {"x": {"field": "nz", "type": "quantitative", "scale": {"domain": [1.11, 1.30], "nice": false, "zero": false}, "axis": {"title": null, "values": [1.13, 1.155, 1.18, 1.205, 1.23, 1.255, 1.28], "format": ".2f", "labelExpr": "indexof([1.13,1.18,1.23,1.28], datum.value) >= 0 ? datum.label : ''"}},
                          "y": {"field": "a", "type": "quantitative", "scale": {"domain": [0.4494, 0.5406], "nice": false, "zero": false}, "axis": {"title": null, "values": [0.45, 0.47, 0.49, 0.51, 0.53], "format": ".2f", "labelFontSize": 13, "labelExpr": "indexof([0.45,0.49,0.53], datum.value) >= 0 ? datum.label : ''"}}}},
            {"data": {"name": "pts"}, "transform": [{"filter": "datum.p==='j'"}, {"regression": "a", "on": "nz"}], "mark": {"type": "line", "color": "black", "strokeWidth": 1.3},
             "encoding": {"x": {"field": "nz", "type": "quantitative", "scale": {"domain": [1.11, 1.30], "nice": false, "zero": false}, "axis": null}, "y": {"field": "a", "type": "quantitative", "scale": {"domain": [0.4494, 0.5406], "nice": false, "zero": false}, "axis": null}}},
            {"data": {"name": "pts"}, "transform": [{"filter": "datum.p==='j'"}], "mark": {"type": "point", "opacity": 0},
             "encoding": {"x": {"field": "nz", "type": "quantitative", "scale": {"domain": [1.11, 1.30], "nice": false, "zero": false}, "axis": {"title": null, "orient": "top", "labels": false, "values": [1.13, 1.155, 1.18, 1.205, 1.23, 1.255, 1.28]}},
                          "y": {"field": "a", "type": "quantitative", "scale": {"domain": [0.4494, 0.5406], "nice": false, "zero": false}, "axis": {"title": null, "orient": "right", "labels": false, "values": [0.45, 0.47, 0.49, 0.51, 0.53]}}}},
            {"data": {"name": "lab"}, "transform": [{"filter": "datum.p==='j' && datum.r==='t'"}], "mark": {"type": "text", "align": "left", "fontSize": 20},
             "encoding": {"x": {"datum": 1.1196, "type": "quantitative", "scale": {"domain": [1.11, 1.30], "nice": false, "zero": false}, "axis": null}, "y": {"datum": 0.523, "type": "quantitative", "scale": {"domain": [0.4494, 0.5406], "nice": false, "zero": false}, "axis": null}, "text": {"field": "s"}}},
            {"data": {"name": "lab"}, "transform": [{"filter": "datum.p==='j' && datum.r==='g'"}], "mark": {"type": "text", "align": "right", "fontSize": 22},
             "encoding": {"x": {"datum": 1.288, "type": "quantitative", "scale": {"domain": [1.11, 1.30], "nice": false, "zero": false}, "axis": null}, "y": {"datum": 0.4841, "type": "quantitative", "scale": {"domain": [0.4494, 0.5406], "nice": false, "zero": false}, "axis": null}, "text": {"field": "s"}}},
            {"data": {"name": "lab"}, "transform": [{"filter": "datum.p==='j' && datum.r==='e'"}], "mark": {"type": "text", "align": "right", "fontSize": 22},
             "encoding": {"x": {"datum": 1.2916, "type": "quantitative", "scale": {"domain": [1.11, 1.30], "nice": false, "zero": false}, "axis": null}, "y": {"datum": 0.4552, "type": "quantitative", "scale": {"domain": [0.4494, 0.5406], "nice": false, "zero": false}, "axis": null}, "text": {"field": "s"}}}
          ],
          "resolve": {"axis": {"x": "independent", "y": "independent"}}
        },
        {
          "width": 159, "height": 150,
          "view": {"stroke": null},
          "data": {"name": "lab"},
          "layer": [
            {"transform": [{"filter": "datum.p==='n' && datum.r==='16'"}], "mark": {"type": "text", "align": "right", "fontSize": 23},
             "encoding": {"x": {"datum": 0.34, "type": "quantitative", "scale": {"domain": [0, 1], "nice": false, "zero": false}, "axis": null}, "y": {"datum": 0.633, "type": "quantitative", "scale": {"domain": [0, 1], "nice": false, "zero": false}, "axis": null}, "text": {"field": "s"}}},
            {"transform": [{"filter": "datum.p==='n' && datum.r==='O'"}], "mark": {"type": "text", "align": "left", "fontSize": 41},
             "encoding": {"x": {"datum": 0.346, "type": "quantitative", "scale": {"domain": [0, 1], "nice": false, "zero": false}, "axis": null}, "y": {"datum": 0.493, "type": "quantitative", "scale": {"domain": [0, 1], "nice": false, "zero": false}, "axis": null}, "text": {"field": "s"}}},
            {"transform": [{"filter": "datum.p==='n' && datum.r==='sup'"}], "mark": {"type": "text", "align": "left", "fontSize": 23},
             "encoding": {"x": {"datum": 0.679, "type": "quantitative", "scale": {"domain": [0, 1], "nice": false, "zero": false}, "axis": null}, "y": {"datum": 0.633, "type": "quantitative", "scale": {"domain": [0, 1], "nice": false, "zero": false}, "axis": null}, "text": {"field": "s"}}},
            {"transform": [{"filter": "datum.p==='n' && datum.r==='Ge'"}], "mark": {"type": "text", "align": "left", "fontSize": 41},
             "encoding": {"x": {"datum": 1.371, "type": "quantitative", "scale": {"domain": [0, 1], "nice": false, "zero": false}, "axis": null}, "y": {"datum": 0.493, "type": "quantitative", "scale": {"domain": [0, 1], "nice": false, "zero": false}, "axis": null}, "text": {"field": "s"}}}
          ]
        }
      ]
    }
  ],
  "config": {
    "font": "Liberation Serif",
    "view": {"stroke": "black", "strokeWidth": 1},
    "axis": {"domain": false, "grid": false, "ticks": true, "tickSize": -4, "tickColor": "black", "tickWidth": 1, "labelColor": "black", "labelFont": "Liberation Serif", "labelFontSize": 13, "labelPadding": 8, "labelFlush": false, "labelOverlap": false, "labelBound": false},
    "text": {"font": "Liberation Serif", "color": "black", "baseline": "alphabetic"},
    "title": {"font": "Liberation Serif"}
  }
}
